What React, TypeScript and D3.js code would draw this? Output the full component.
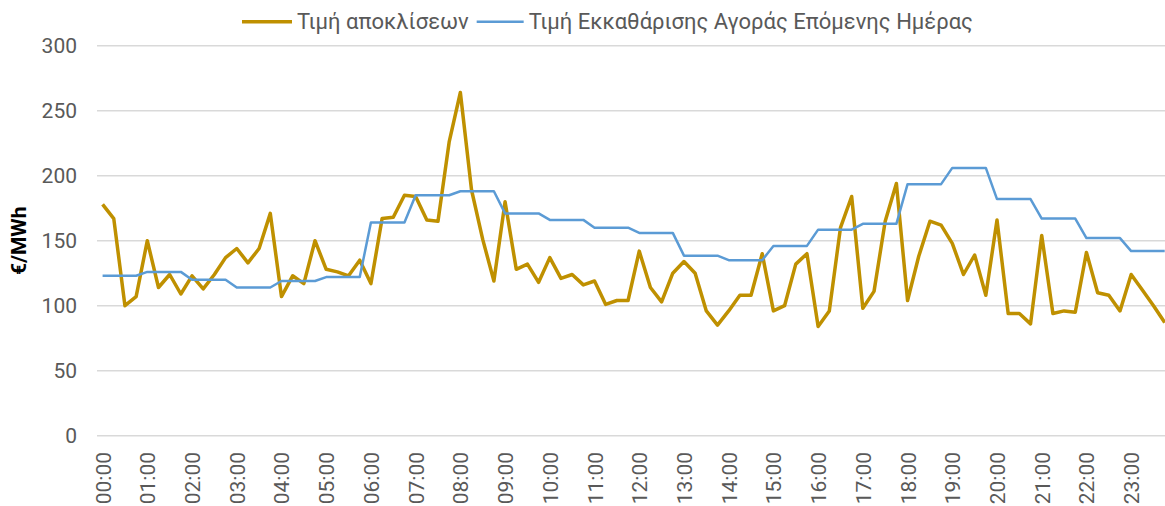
import React, { useEffect, useRef } from 'react';
import * as d3 from 'd3';

// 15-minute imbalance price, 96 quarters
const imbalancePrice = [
  178, 167, 100, 107, 150, 114, 124, 109, 123, 113, 124, 137,
  144, 133, 144, 171, 107, 123, 117, 150, 128, 126, 123, 135,
  117, 167, 168, 185, 184, 166, 165, 226, 264, 189, 151, 119,
  180, 128, 132, 118, 137, 121, 124, 116, 119, 101, 104, 104,
  142, 114, 103, 125, 134, 125, 96, 85, 96, 108, 108, 140,
  96, 100, 132, 140, 84, 96, 160, 184, 98, 111, 165, 194,
  104, 138, 165, 162, 148, 124, 139, 108, 166, 94, 94, 86,
  154, 94, 96, 95, 141, 110, 108, 96, 124, 112, 100, 87,
];

// day-ahead clearing price, same quarters (hourly blocks)
const dayAheadPrice = [
  123, 123, 123, 123, 126, 126, 126, 126, 120, 120, 120, 120,
  114, 114, 114, 114, 119, 119, 119, 119, 122, 122, 122, 122,
  164, 164, 164, 164, 185, 185, 185, 185, 188, 188, 188, 188,
  171, 171, 171, 171, 166, 166, 166, 166, 160, 160, 160, 160,
  156, 156, 156, 156, 138.5, 138.5, 138.5, 138.5, 135, 135, 135, 135,
  146, 146, 146, 146, 158.5, 158.5, 158.5, 158.5, 163, 163, 163, 163,
  193.5, 193.5, 193.5, 193.5, 206, 206, 206, 206, 182, 182, 182, 182,
  167, 167, 167, 167, 152, 152, 152, 152, 142, 142, 142, 142,
];

const hourLabels = [
  '00:00', '01:00', '02:00', '03:00', '04:00', '05:00', '06:00', '07:00',
  '08:00', '09:00', '10:00', '11:00', '12:00', '13:00', '14:00', '15:00',
  '16:00', '17:00', '18:00', '19:00', '20:00', '21:00', '22:00', '23:00',
];

const yTicks = [0, 50, 100, 150, 200, 250, 300];

const seriesNames = ['Τιμή αποκλίσεων', 'Τιμή Εκκαθάρισης Αγοράς Επόμενης Ημέρας'];
const seriesColors = ['#BF9000', '#5B9BD5'];

const App = () => {
  const ref = useRef<SVGSVGElement>(null);

  useEffect(() => {
    const svg = d3.select(ref.current);
    svg.selectAll('*').remove();

    const font = 'Roboto, sans-serif';
    const left = 97, right = 1170.3, top = 45.7, bottom = 435.7;

    const x = d3.scaleBand<number>()
      .domain(d3.range(imbalancePrice.length))
      .range([left, right])
      .padding(0);
    const cx = (i: number) => (x(i) as number) + x.bandwidth() / 2;

    const y = d3.scaleLinear().domain([0, 300]).range([bottom, top]);

    // gridlines + y labels
    svg.append('g')
      .selectAll('line')
      .data(yTicks)
      .join('line')
        .attr('x1', left)
        .attr('x2', right)
        .attr('y1', d => y(d))
        .attr('y2', d => y(d))
        .attr('stroke', '#d9d9d9')
        .attr('stroke-width', 1.5);

    svg.append('g')
      .selectAll('text')
      .data(yTicks)
      .join('text')
        .attr('x', 77)
        .attr('y', d => y(d))
        .attr('dy', '0.36em')
        .attr('text-anchor', 'end')
        .attr('font-family', font)
        .attr('font-size', 21)
        .attr('fill', '#595959')
        .text(d => d);

    // x labels, one per hour
    svg.append('g')
      .selectAll('text')
      .data(hourLabels)
      .join('text')
        .attr('transform', (d, i) => `translate(${cx(i * 4) + 8},452) rotate(-90)`)
        .attr('text-anchor', 'end')
        .attr('font-family', font)
        .attr('font-size', 21)
        .attr('fill', '#595959')
        .text(d => d);

    // y title
    svg.append('text')
      .attr('transform', `translate(26,${(top + bottom) / 2}) rotate(-90)`)
      .attr('text-anchor', 'middle')
      .attr('font-family', font)
      .attr('font-size', 21)
      .attr('font-weight', 'bold')
      .attr('fill', '#000')
      .text('€/MWh');

    const line = d3.line<number>()
      .x((d, i) => cx(i))
      .y(d => y(d));

    svg.append('path')
      .datum(imbalancePrice)
      .attr('d', line)
      .attr('fill', 'none')
      .attr('stroke', seriesColors[0])
      .attr('stroke-width', 3.5)
      .attr('stroke-linejoin', 'round');

    svg.append('path')
      .datum(dayAheadPrice)
      .attr('d', line)
      .attr('fill', 'none')
      .attr('stroke', seriesColors[1])
      .attr('stroke-width', 2.5)
      .attr('stroke-linejoin', 'round');

    // legend
    const legend = svg.append('g');
    let lx = 242;
    const widths = [50, 47];
    seriesNames.forEach((name, i) => {
      legend.append('line')
        .attr('x1', lx)
        .attr('x2', lx + widths[i])
        .attr('y1', 21.7)
        .attr('y2', 21.7)
        .attr('stroke', seriesColors[i])
        .attr('stroke-width', i === 0 ? 3.5 : 2.5);
      const t = legend.append('text')
        .attr('x', lx + widths[i] + 5)
        .attr('y', 28.5)
        .attr('font-family', font)
        .attr('font-size', 22)
        .attr('fill', '#595959')
        .text(name);
      const tw = (t.node() as SVGTextElement).getComputedTextLength();
      lx = lx + widths[i] + 5 + tw + 8;
    });
  }, []);

  return (
    <svg ref={ref} width={1165} height={506}
      style={{ position: 'absolute', left: 0, top: 0 }}></svg>
  );
};

export default App;
